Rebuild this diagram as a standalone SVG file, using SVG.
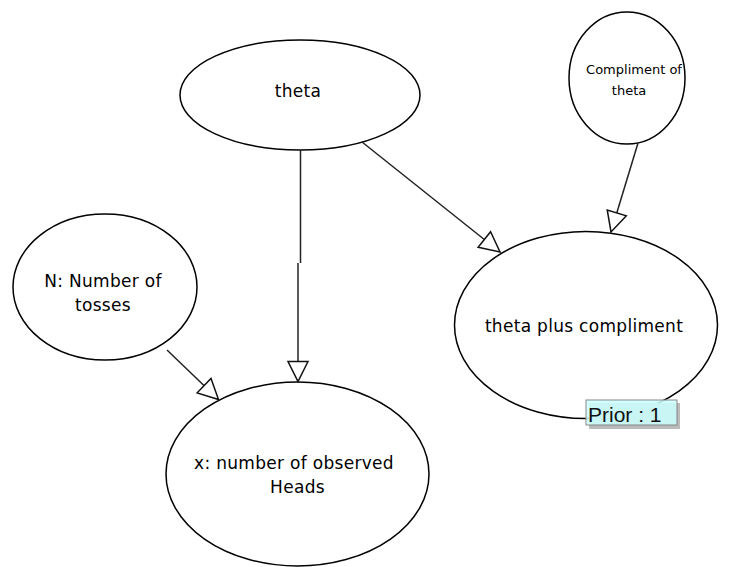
<svg xmlns="http://www.w3.org/2000/svg" width="735" height="567" viewBox="0 0 735 567">
<style>
.node ellipse{fill:#fff;stroke:#000;stroke-width:1.5}
.node text{font-family:"DejaVu Sans",sans-serif;font-size:17px;letter-spacing:0.3px;fill:#000;text-anchor:middle}
.node text.sm{font-size:13px;letter-spacing:0}
.edge{fill:none;stroke:#222;stroke-width:1.5;marker-end:url(#tri)}
.prior text{font-family:"Liberation Sans",Arial,sans-serif;font-size:21px;fill:#111}
</style>
<defs>
<marker id="tri" viewBox="0 0 20 20" refX="20" refY="10" markerWidth="20" markerHeight="20" markerUnits="userSpaceOnUse" orient="auto" overflow="visible">
<path d="M0,0 L20,10 L0,20 Z" fill="#fff" stroke="#111" stroke-width="1.5" stroke-linejoin="miter"/>
</marker>
</defs>
<rect width="735" height="567" fill="#fff"/>
<g id="theta" class="node">
<ellipse cx="300" cy="95" rx="120" ry="55"/>
<text x="298" y="97">theta</text>
</g>
<g id="compliment" class="node">
<ellipse cx="627" cy="78" rx="58" ry="66"/>
<text class="sm" x="634" y="74">Compliment of</text>
<text class="sm" x="629" y="95">theta</text>
</g>
<g id="ntosses" class="node">
<ellipse cx="105" cy="287" rx="92" ry="73"/>
<text x="103" y="287">N: Number of</text>
<text x="103" y="311">tosses</text>
</g>
<g id="tpc" class="node">
<ellipse cx="586" cy="325" rx="131.5" ry="93.5"/>
<text x="584" y="332">theta plus compliment</text>
</g>
<g id="x" class="node">
<ellipse cx="297.5" cy="474" rx="131.5" ry="92"/>
<text x="294" y="469">x: number of observed</text>
<text x="297.5" y="493">Heads</text>
</g>
<g id="connectors">
<path d="M300.5 150 V263" fill="none" stroke="#222" stroke-width="1.5"/>
<path class="edge" d="M298 263 V381.5"/>
<path class="edge" d="M362 142 L500 252"/>
<path class="edge" d="M638 143 L611 232"/>
<path class="edge" d="M167 350 L218.5 399.5"/>
</g>
<g id="prior" class="prior">
<rect x="589" y="403" width="91" height="26" fill="#bbb"/>
<rect x="586" y="400" width="91" height="25" fill="#ccffff" fill-opacity="0.85" stroke="#888" stroke-width="1"/>
<text x="588" y="422">Prior : 1</text>
</g>
</svg>
